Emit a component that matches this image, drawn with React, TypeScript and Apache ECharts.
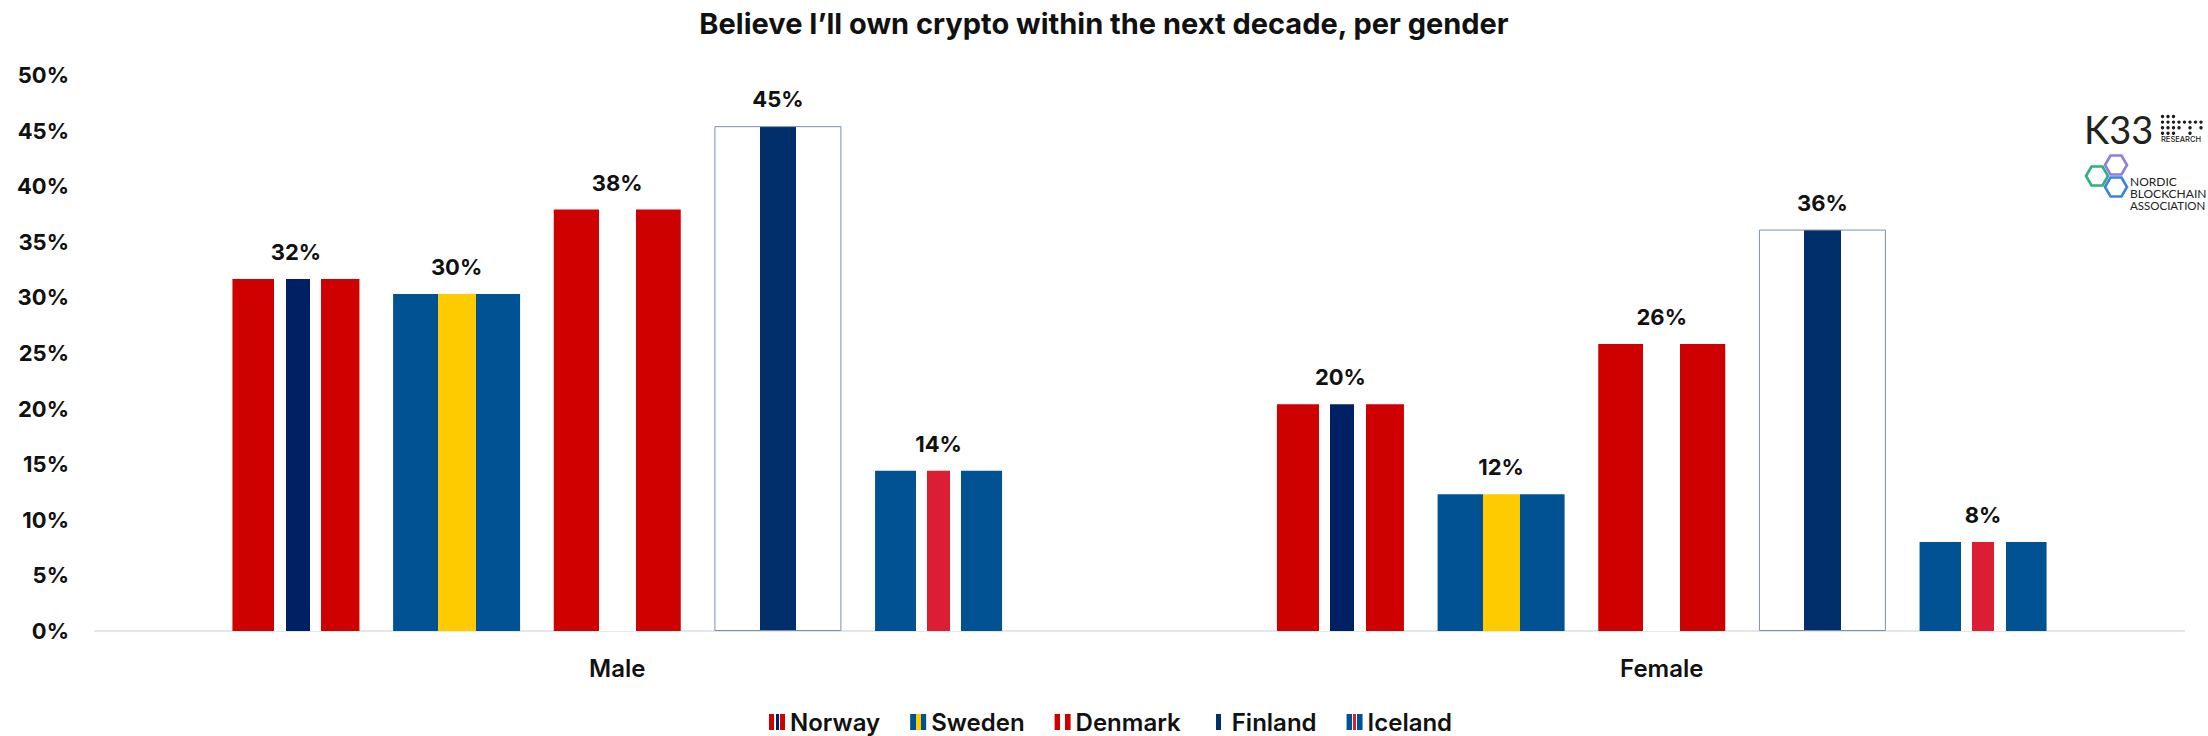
import React, { useEffect, useRef } from "react";
import * as echarts from "echarts";

const categories = ["Male", "Female"];
const norway = [31.65, 20.4];
const sweden = [30.3, 12.3];
const denmark = [37.9, 25.8];
const finland = [45.4, 36.1];
const iceland = [14.4, 8.0];
const titleText = "Believe I\u2019ll own crypto within the next decade, per gender";

const FONT = "Inter, 'Noto Sans', sans-serif";
const LOGO_FONT = "Lato, 'Noto Sans', sans-serif";
const INK = "#111111";

const bands = (list: [string, number][]) => {
  const stops: { offset: number; color: string }[] = [];
  let from = 0;
  list.forEach(([color, to]) => {
    stops.push({ offset: from, color }, { offset: to, color });
    from = to;
  });
  return new echarts.graphic.LinearGradient(0, 0, 1, 0, stops);
};

const RED = "#CF0000";
const NOR_BLUE = "#002066";
const SWE_BLUE = "#005293";
const SWE_YELLOW = "#FECB00";
const FIN_BLUE = "#002F6C";
const ICE_RED = "#DC1E35";
const WHITE = "#FFFFFF";

const flags: Record<string, any> = {
  Norway: bands([[RED, 0.33], [WHITE, 0.42], [NOR_BLUE, 0.61], [WHITE, 0.70], [RED, 1]]),
  Sweden: bands([[SWE_BLUE, 0.357], [SWE_YELLOW, 0.65], [SWE_BLUE, 1]]),
  Denmark: bands([[RED, 0.354], [WHITE, 0.646], [RED, 1]]),
  Finland: bands([[WHITE, 0.354], [FIN_BLUE, 0.646], [WHITE, 1]]),
  Iceland: bands([[SWE_BLUE, 0.323], [WHITE, 0.41], [ICE_RED, 0.59], [WHITE, 0.68], [SWE_BLUE, 1]]),
};

const hexagon = (cx: number, cy: number, color: string) => ({
  type: "polygon",
  shape: {
    points: [
      [cx - 11, cy], [cx - 5.5, cy - 9.5], [cx + 5.5, cy - 9.5],
      [cx + 11, cy], [cx + 5.5, cy + 9.5], [cx - 5.5, cy + 9.5],
    ],
  },
  style: { fill: "none", stroke: color, lineWidth: 2.6 },
  silent: true,
});

const logoDots = [
  [0, 0], [1, 0], [2, 0],
  [0, 1], [1, 1], [2, 1], [3, 1], [4, 1], [5, 1], [6, 1], [7, 1],
  [0, 2], [1, 2], [2, 2], [3, 2], [5, 2], [7, 2],
  [0, 3], [1, 3], [2, 3], [5, 3],
].map(([c, r]) => ({
  type: "circle",
  shape: { cx: 2162.5 + c * 5.5, cy: 116.5 + r * 5.6, r: 1.7 },
  style: { fill: "#1c1c1c" },
  silent: true,
}));

const logoText = (x: number, y: number, text: string, font: string) => ({
  type: "text",
  x,
  y,
  style: { text, fill: "#222222", font, textVerticalAlign: "middle" },
  silent: true,
});

export default function App() {
  const ref = useRef<HTMLDivElement>(null);
  useEffect(() => {
    const chart = echarts.init(ref.current!, undefined, { renderer: "svg" });
    const names = ["Norway", "Sweden", "Denmark", "Finland", "Iceland"];
    const values = [norway, sweden, denmark, finland, iceland];
    chart.setOption({
      animation: false,
      backgroundColor: "#FFFFFF",
      title: {
        text: titleText,
        left: "center",
        top: 4,
        textStyle: { fontFamily: FONT, fontWeight: 700, fontSize: 29, color: INK },
      },
      legend: {
        data: names.map((name) => ({ name, itemStyle: { borderWidth: 0 } })),
        left: 764,
        top: 705,
        itemWidth: 16,
        itemHeight: 16,
        itemGap: 30,
        icon: "rect",
        textStyle: { fontFamily: FONT, fontWeight: 600, fontSize: 24, color: INK },
      },
      grid: { left: 95, right: 24, top: 75, bottom: 105, containLabel: false },
      xAxis: {
        type: "category",
        data: categories,
        axisTick: { show: false },
        axisLine: { lineStyle: { color: "#E2E7EE", width: 2 } },
        axisLabel: { margin: 25, fontFamily: FONT, fontWeight: 600, fontSize: 24, color: INK },
      },
      yAxis: {
        type: "value",
        min: 0,
        max: 50,
        interval: 5,
        splitLine: { show: false },
        axisLine: { show: false },
        axisTick: { show: false },
        axisLabel: {
          margin: 26,
          formatter: "{value}%",
          fontFamily: FONT,
          fontWeight: 700,
          fontSize: 22,
          color: INK,
        },
      },
      series: names.map((name, i) => ({
        name,
        type: "bar",
        data: values[i],
        barWidth: 127,
        barGap: "26.5%",
        itemStyle: {
          color: flags[name],
          borderColor: name === "Finland" ? "#7B90A6" : undefined,
          borderWidth: name === "Finland" ? 1 : 0,
        },
        label: {
          show: true,
          position: "top",
          distance: 16,
          formatter: (p: any) => `${Math.round(p.value)}%`,
          fontFamily: FONT,
          fontWeight: 700,
          fontSize: 22,
          color: INK,
        },
      })),
      graphic: {
        elements: [
          logoText(2084, 129, "K33", `400 38px ${LOGO_FONT}`),
          ...logoDots,
          logoText(2161, 139.5, "RESEARCH", `500 7.5px ${FONT}`),
          hexagon(2116, 165, "#8B7FE0"),
          hexagon(2097, 176, "#2FAE7E"),
          hexagon(2116, 187, "#3B82E0"),
          logoText(2130, 181, "NORDIC", `400 12px ${LOGO_FONT}`),
          logoText(2130, 193, "BLOCKCHAIN", `400 12px ${LOGO_FONT}`),
          logoText(2130, 205, "ASSOCIATION", `400 11.5px ${LOGO_FONT}`),
        ],
      },
    });
    return () => chart.dispose();
  }, []);
  return <div ref={ref} style={{ position: "fixed", left: 0, top: 0, width: 2208, height: 736 }} />;
}
